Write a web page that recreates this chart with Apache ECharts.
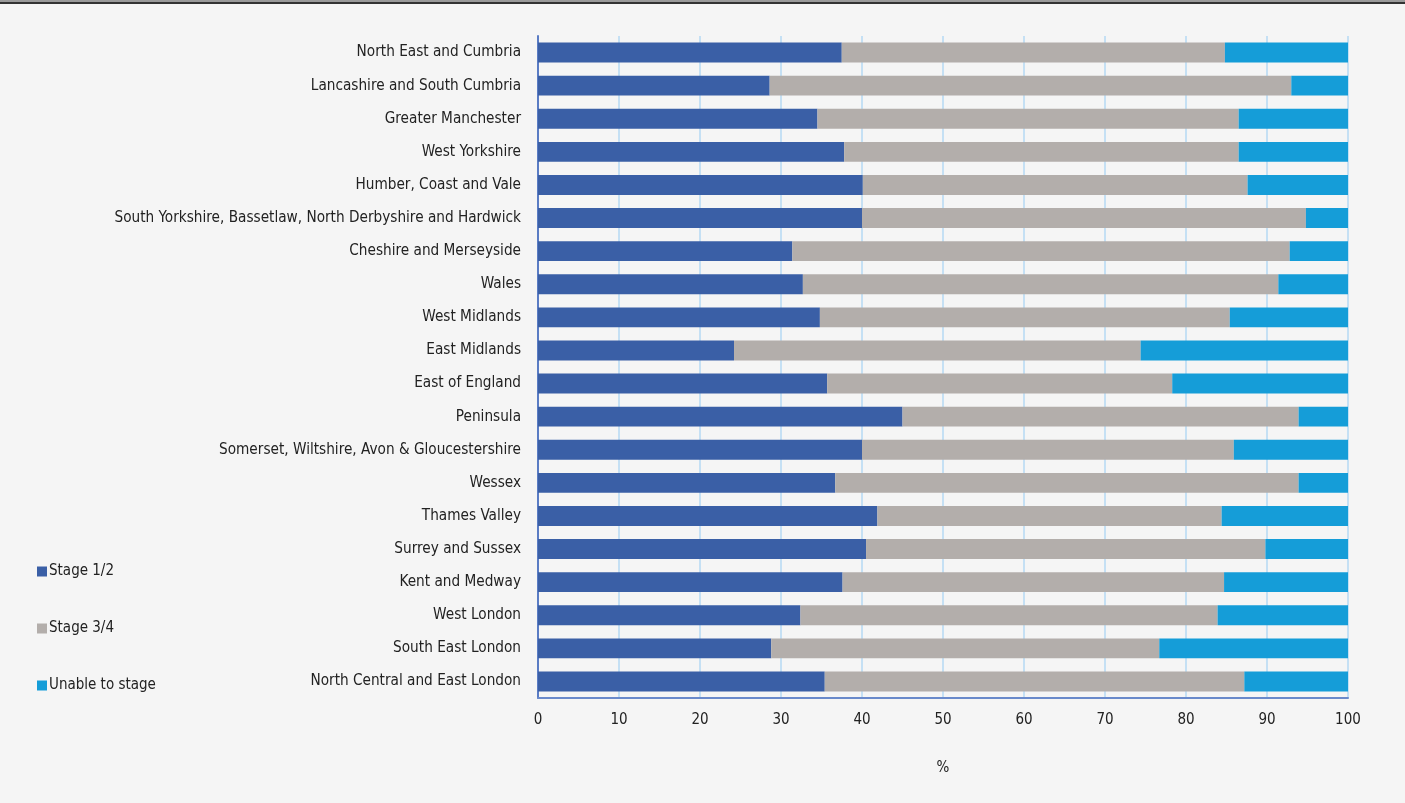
<!DOCTYPE html>
<html>
<head>
<meta charset="utf-8">
<script src="https://cdn.jsdelivr.net/npm/echarts@6/dist/echarts.min.js"></script>
<style>
html,body{margin:0;padding:0;background:#f5f5f5;}
#chart{width:1405px;height:803px;}
</style>
</head>
<body>
<div id="chart"></div>
<script>
const categories = [
  "North East and Cumbria",
  "Lancashire and South Cumbria",
  "Greater Manchester",
  "West Yorkshire",
  "Humber, Coast and Vale",
  "South Yorkshire, Bassetlaw, North Derbyshire and Hardwick",
  "Cheshire and Merseyside",
  "Wales",
  "West Midlands",
  "East Midlands",
  "East of England",
  "Peninsula",
  "Somerset, Wiltshire, Avon & Gloucestershire",
  "Wessex",
  "Thames Valley",
  "Surrey and Sussex",
  "Kent and Medway",
  "West London",
  "South East London",
  "North Central and East London"
];
const stage12 = [37.5, 28.6, 34.5, 37.8, 40.1, 40.0, 31.4, 32.7, 34.8, 24.2, 35.7, 45.0, 40.0, 36.7, 41.9, 40.5, 37.6, 32.4, 28.8, 35.4];
const stage34 = [47.3, 64.4, 52.0, 48.7, 47.5, 54.8, 61.4, 58.7, 50.6, 50.2, 42.6, 48.9, 45.9, 57.2, 42.5, 49.3, 47.1, 51.5, 47.9, 51.8];
const unable  = [15.2, 7.0, 13.5, 13.5, 12.4, 5.2, 7.2, 8.6, 14.6, 25.6, 21.7, 6.1, 14.1, 6.1, 15.6, 10.2, 15.3, 16.1, 23.3, 12.8];
const seriesNames = ["Stage 1/2", "Stage 3/4", "Unable to stage"];
const xTicks = [0, 10, 20, 30, 40, 50, 60, 70, 80, 90, 100];

const FONT = '"Liberation Sans Narrow", "DejaVu Sans Condensed", "Open Sans", sans-serif';
const colors = ["#3a5fa6", "#b3aeab", "#159dd8"];

const chart = echarts.init(document.getElementById('chart'));
chart.setOption({
  backgroundColor: '#f5f5f5',
  animation: false,
  textStyle: { fontFamily: FONT, color: '#222' },
  graphic: [
    { type: 'rect', shape: { x: 0, y: 0, width: 1405, height: 2 }, style: { fill: '#9a9a9a' } },
    { type: 'rect', shape: { x: 0, y: 2, width: 1405, height: 2 }, style: { fill: '#333' } }
  ],
  legend: {
    orient: 'vertical',
    left: 32,
    top: 559,
    itemWidth: 10,
    itemHeight: 10,
    itemGap: 42,
    icon: 'rect',
    data: seriesNames,
    textStyle: { fontFamily: FONT, fontSize: 15, color: '#222', padding: [0, 0, 0, -3] }
  },
  grid: { left: 538, right: 57, top: 36, bottom: 105, containLabel: false },
  xAxis: {
    type: 'value',
    min: 0, max: 100, interval: 10,
    name: '%',
    nameLocation: 'middle',
    nameGap: 63,
    nameTextStyle: { fontFamily: FONT, fontSize: 15, color: '#222' },
    axisLine: { show: true, lineStyle: { color: '#6a8acb', width: 2 } },
    axisTick: { show: false },
    axisLabel: { fontFamily: FONT, fontSize: 15, color: '#222', margin: 15,
      formatter: v => xTicks.includes(v) ? String(v) : '' },
    splitLine: { show: true, lineStyle: { color: '#c5e0f4', width: 2 } }
  },
  yAxis: {
    type: 'category',
    data: categories,
    inverse: true,
    axisLine: { show: true, lineStyle: { color: '#5a7cc4', width: 2 } },
    axisTick: { show: false },
    axisLabel: { fontFamily: FONT, fontSize: 15.2, color: '#222', margin: 17 }
  },
  series: [
    { name: seriesNames[0], type: 'bar', stack: 'a', data: stage12, itemStyle: { color: colors[0] }, barCategoryGap: '40%' },
    { name: seriesNames[1], type: 'bar', stack: 'a', data: stage34, itemStyle: { color: colors[1] } },
    { name: seriesNames[2], type: 'bar', stack: 'a', data: unable, itemStyle: { color: colors[2] } }
  ]
});
</script>
</body>
</html>
